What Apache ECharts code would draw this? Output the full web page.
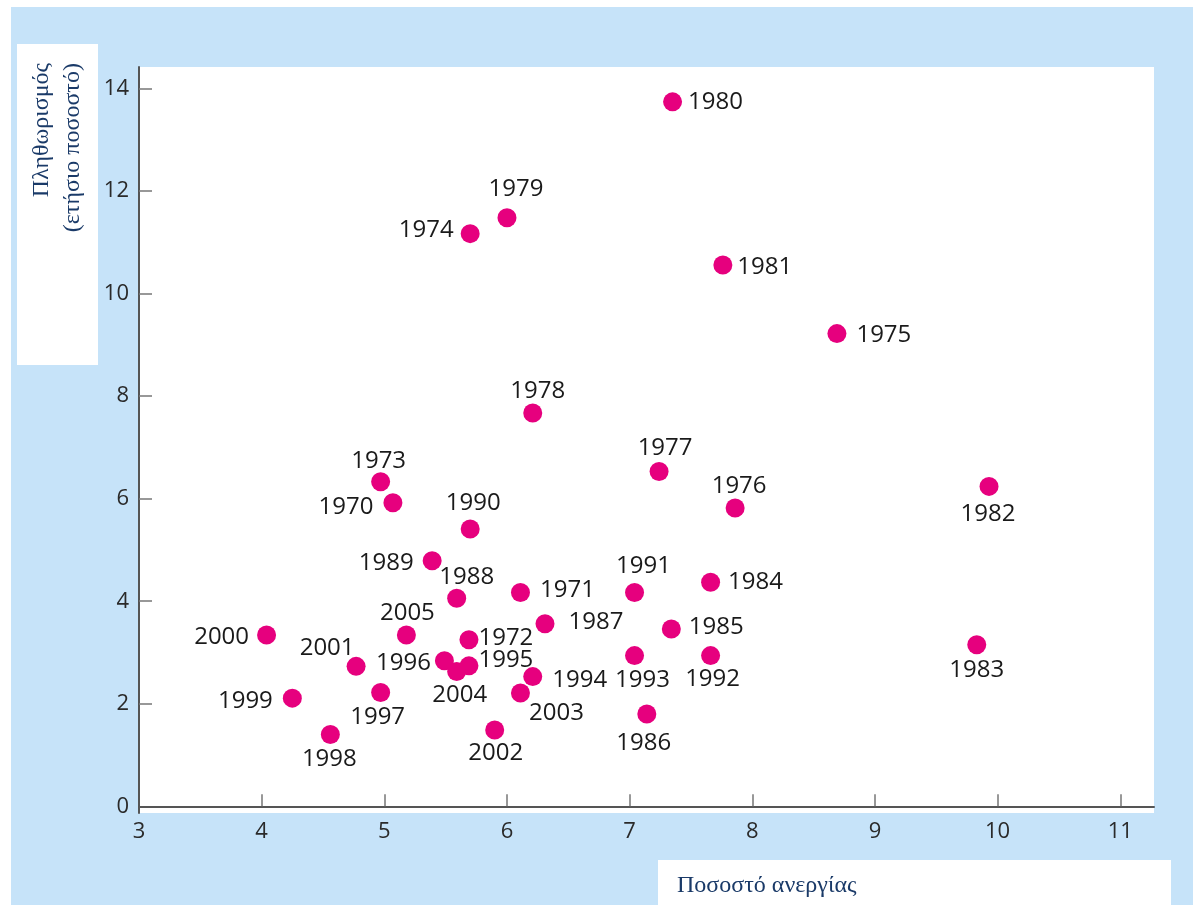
<!DOCTYPE html>
<html>
<head>
<meta charset="utf-8">
<script src="https://cdn.jsdelivr.net/npm/echarts@6/dist/echarts.min.js"></script>
<style>
html,body{margin:0;padding:0;background:#fff;}
#chart{width:1193px;height:905px;}
</style>
</head>
<body>
<div id="chart"></div>
<script>
// ---- data ----
const years = [1970,1971,1972,1973,1974,1975,1976,1977,1978,1979,1980,1981,1982,1983,1984,1985,1986,1987,1988,1989,1990,1991,1992,1993,1994,1995,1996,1997,1998,1999,2000,2001,2002,2003,2004,2005];
const unemployment = [5.07,6.11,5.69,4.97,5.70,8.69,7.86,7.24,6.21,6.00,7.35,7.76,9.93,9.83,7.66,7.34,7.14,6.31,5.59,5.39,5.70,7.04,7.66,7.04,6.21,5.69,5.49,4.97,4.56,4.25,4.04,4.77,5.90,6.11,5.59,5.18];
const inflation = [5.92,4.17,3.25,6.33,11.17,9.22,5.82,6.53,7.67,11.48,13.74,10.56,6.24,3.15,4.37,3.46,1.80,3.56,4.06,4.79,5.41,4.17,2.94,2.94,2.53,2.74,2.84,2.22,1.40,2.11,3.34,2.73,1.49,2.21,2.63,3.34];
const xTicks = [3,4,5,6,7,8,9,10,11];
const yTicks = [0,2,4,6,8,10,12,14];
const yTitle = 'Πληθωρισμός\n(ετήσιο ποσοστό)';
const xTitle = 'Ποσοστό ανεργίας';

// ---- label placement (style only) ----
const labelPlace = {
  1970:['l',10,4],1971:['r',10,-2],1972:['r',0,-2],1973:['c',-2,-21],1974:['l',7,-3],
  1975:['r',10,2],1976:['c',4,-22],1977:['c',6,-23],1978:['c',5,-22],1979:['c',9,-29],
  1980:['r',6,0],1981:['r',5,2],1982:['c',-1,28],1983:['c',0,25],1984:['r',8,0],
  1985:['r',8,-2],1986:['c',-3,29],1987:['r',14,-2],1988:['c',10,-21],1989:['l',9,2],
  1990:['c',3,-26],1991:['c',9,-26],1992:['c',2,24],1993:['c',8,25],1994:['r',10,4],
  1995:['r',0,-6],1996:['l',4,2],1997:['c',-3,25],1998:['c',-1,25],1999:['l',10,3],
  2000:['l',8,2],2001:['c',-29,-18],2002:['c',1,23],2003:['c',36,20],2004:['c',3,24],
  2005:['c',1,-22]
};

function labelFor(y){
  const p = labelPlace[y];
  if (p[0]==='r') return {position:'right', distance:p[1], offset:[0,p[2]]};
  if (p[0]==='l') return {position:'left', distance:p[1], offset:[0,p[2]]};
  return {position:'inside', offset:[p[1],p[2]]};
}

const points = years.map((yr,i)=>({
  value:[unemployment[i], inflation[i], yr],
  label: labelFor(yr)
}));

const navy = '#1a3a68';
const chart = echarts.init(document.getElementById('chart'), null, {renderer:'canvas'});
chart.setOption({
  backgroundColor:'#c6e3f9',
  animation:false,
  grid:{left:139, top:67, right:39, bottom:92, show:true, backgroundColor:'#ffffff', borderWidth:0},
  xAxis:{
    type:'value', min:3, max:11.275,
    axisLine:{show:true, lineStyle:{color:'#555', width:2}},
    axisTick:{show:true, inside:true, length:12, customValues:xTicks.slice(1), lineStyle:{color:'#777', width:1.5}},
    axisLabel:{customValues:xTicks, margin:8, fontSize:22, color:'#2a2a2a', fontFamily:'Open Sans'},
    splitLine:{show:false}
  },
  yAxis:{
    type:'value', min:-0.13, max:14.42,
    axisLine:{show:true, lineStyle:{color:'#555', width:2}},
    axisTick:{show:true, inside:true, length:13, customValues:yTicks.slice(1), lineStyle:{color:'#777', width:1.5}},
    axisLabel:{customValues:yTicks, margin:10, fontSize:22, color:'#2a2a2a', fontFamily:'Open Sans'},
    splitLine:{show:false}
  },
  graphic:[
    {type:'rect', shape:{x:0,y:0,width:1193,height:7}, style:{fill:'#fff'}, silent:true},
    {type:'rect', shape:{x:0,y:0,width:11,height:905}, style:{fill:'#fff'}, silent:true},
    {type:'rect', shape:{x:17,y:44,width:81,height:321}, style:{fill:'#fff'}, silent:true},
    {type:'rect', shape:{x:658,y:860,width:513,height:45}, style:{fill:'#fff'}, silent:true},
    {type:'text', x:57, y:63, rotation:Math.PI/2,
      style:{text:yTitle, fill:navy, font:'24px "Liberation Serif", "Times New Roman", serif', align:'right', verticalAlign:'middle', lineHeight:31}},
    {type:'text', x:677, y:886,
      style:{text:xTitle, fill:navy, font:'24px "Liberation Serif", "Times New Roman", serif', align:'left', verticalAlign:'middle'}}
  ],
  series:[{
    type:'scatter',
    symbol:'circle',
    symbolSize:19,
    itemStyle:{color:'#e6007e', opacity:1},
    label:{show:true, formatter:p=>String(p.value[2]), fontSize:24, color:'#1a1a1a', fontFamily:'Open Sans'},
    data:points
  }]
});
</script>
</body>
</html>
